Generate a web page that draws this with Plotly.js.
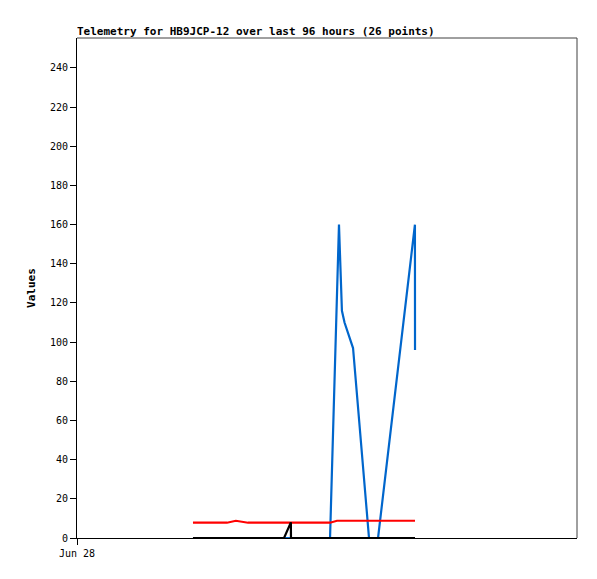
<!DOCTYPE html>
<html>
<head>
<meta charset="utf-8">
<script src="https://cdn.plot.ly/plotly-3.0.1.min.js"></script>
<style>html,body{margin:0;padding:0;background:#fff;}#chart{width:597px;height:579px;}</style>
</head>
<body>
<div id="chart"></div>
<script>
// Series data (time stamps, values)
const blueTimes = ["2024-06-28 22:16","2024-06-30 00:35","2024-06-30 02:18","2024-06-30 02:52","2024-06-30 03:22","2024-06-30 05:00","2024-06-30 08:04","2024-06-30 09:48","2024-06-30 16:53","2024-06-30 16:54"];
const blueValues = [0, 0, 160, 116, 110, 97, 0, 0, 160, 96];

const redTimes = ["2024-06-28 22:16","2024-06-29 04:48","2024-06-29 06:30","2024-06-29 08:50","2024-06-30 00:35","2024-06-30 01:55","2024-06-30 16:54"];
const redValues = [7.8, 7.8, 8.8, 7.8, 7.8, 8.8, 8.8];

const blackTimes = ["2024-06-28 22:16","2024-06-29 15:45","2024-06-29 17:04","2024-06-29 17:05","2024-06-30 16:54"];
const blackValues = [0, 0, 8, 0, 0];

const xStart = "2024-06-28 00:00";
const xEnd = "2024-07-02 00:00";
const xTickVals = ["2024-06-28 00:00"];
const xTickText = ["Jun 28"];
const yTickVals = [0,20,40,60,80,100,120,140,160,180,200,220,240];

const mono = "DejaVu Sans Mono, Liberation Mono, monospace";

const traces = [
  {x: blueTimes, y: blueValues, mode: "lines", line: {color: "#0066cc", width: 2.2}},
  {x: redTimes, y: redValues, mode: "lines", line: {color: "#ff0000", width: 2.2}},
  {x: blackTimes, y: blackValues, mode: "lines", line: {color: "#000000", width: 2.2}}
];

const layout = {
  width: 597, height: 579,
  margin: {l: 77, r: 20, t: 38, b: 41},
  paper_bgcolor: "#fff", plot_bgcolor: "#fff",
  showlegend: false,
  title: {text: "<b>Telemetry for HB9JCP-12 over last 96 hours (26 points)</b>", x: 77/597, xanchor: "left", y: 1 - 31/579, yanchor: "middle", font: {family: mono, size: 11, color: "#000"}},
  xaxis: {type: "date", range: [xStart, xEnd], tickvals: xTickVals, ticktext: xTickText, ticks: "outside", ticklen: 6, tickcolor: "#000", showgrid: false, zeroline: false, showline: true, linecolor: "#000", linewidth: 1, mirror: false, tickfont: {family: mono, size: 10, color: "#000"}},
  yaxis: {range: [0, 255.3], tickvals: yTickVals, ticks: "outside", ticklen: 6, tickcolor: "#000", showgrid: false, zeroline: false, showline: true, linecolor: "#000", linewidth: 1, mirror: false, tickfont: {family: mono, size: 10, color: "#000"}, title: {text: "<b>Values</b>", font: {family: mono, size: 11, color: "#000"}, standoff: 12}},
  shapes: [
    {type: "line", xref: "paper", yref: "paper", x0: 0, x1: 1, y0: 1, y1: 1, line: {color: "#404040", width: 1}},
    {type: "line", xref: "paper", yref: "paper", x0: 1, x1: 1, y0: 0, y1: 1, line: {color: "#404040", width: 1}}
  ]
};

Plotly.newPlot("chart", traces, layout, {displayModeBar: false, staticPlot: true});
</script>
</body>
</html>
